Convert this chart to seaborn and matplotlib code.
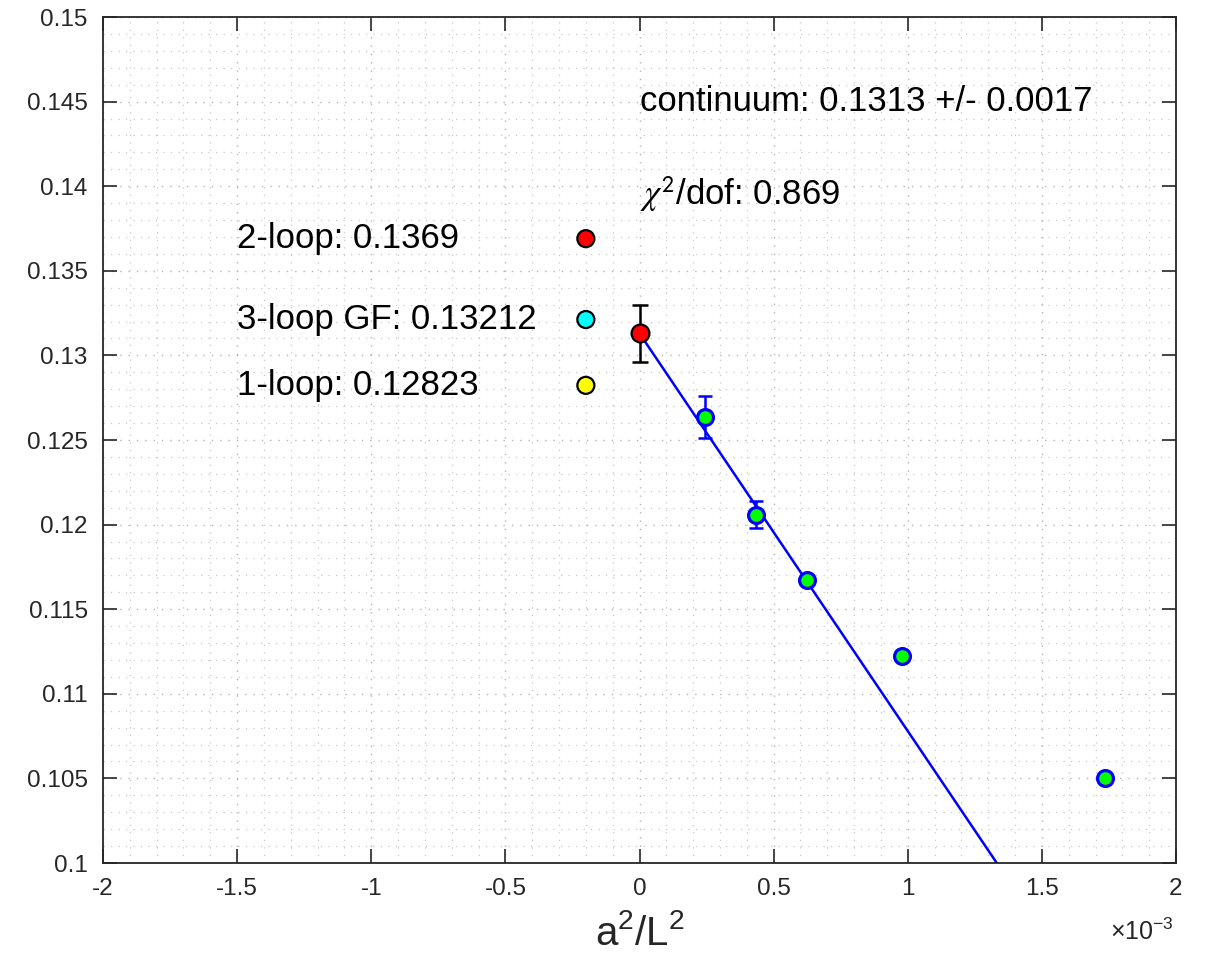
import numpy as np
import pandas as pd
import matplotlib
matplotlib.use("Agg")
import matplotlib.pyplot as plt
from matplotlib.ticker import MultipleLocator, FuncFormatter
import seaborn as sns

# lattice data: a^2/L^2 and coupling with errors
x_lat = [0.000244, 0.000434, 0.000625, 0.000977, 0.001736]
y_lat = [0.12636, 0.12057, 0.11673, 0.11223, 0.10502]
err_lat = [0.00122, 0.00080, 0.00025, 0.00012, 0.00012]

# continuum extrapolation
x_cont = [0.0]
y_cont = [0.1313]
err_cont = [0.0017]
fit_slope = -23.5
chi2_dof = 0.869

# perturbative reference values
pert_names = ["2-loop", "3-loop GF", "1-loop"]
pert_values = [0.1369, 0.13212, 0.12823]
pert_colors = ["#ff0000", "#00ffff", "#ffff00"]
pert_x = -0.0002

x_ticks = [-2, -1.5, -1, -0.5, 0, 0.5, 1, 1.5, 2]
y_ticks = [0.1, 0.105, 0.11, 0.115, 0.12, 0.125, 0.13, 0.135, 0.14, 0.145, 0.15]

sns.set_theme(style="ticks")
plt.rcParams["font.family"] = ["Liberation Sans", "DejaVu Sans"]
plt.rcParams["mathtext.fontset"] = "custom"
plt.rcParams["mathtext.rm"] = "Liberation Sans"
plt.rcParams["mathtext.it"] = "Liberation Sans:italic"
plt.rcParams["mathtext.sf"] = "Liberation Sans"

fig = plt.figure(figsize=(12.06, 9.55), dpi=100)
ax = fig.add_axes([103 / 1206, 1 - 863 / 955, (1176 - 103) / 1206, (863 - 17) / 955])

# grid
ax.set_axisbelow(True)
ax.xaxis.set_major_locator(MultipleLocator(0.0005))
ax.xaxis.set_minor_locator(MultipleLocator(0.0001))
ax.yaxis.set_major_locator(MultipleLocator(0.005))
ax.yaxis.set_minor_locator(MultipleLocator(0.001))
ax.grid(which="major", color="#b5b5b5", linestyle=(0, (1, 5)), linewidth=1.0)
ax.grid(which="minor", color="#c8c8c8", linestyle=(0, (1, 5)), linewidth=0.9)

# fit line from the continuum value
fit_x = np.array([0.0, 0.0016])
fit_df = pd.DataFrame({"x": fit_x, "y": y_cont[0] + fit_slope * fit_x})
sns.lineplot(data=fit_df, x="x", y="y", ax=ax, color="#0000ff", linewidth=1.8, zorder=2)

# lattice points
ax.errorbar(x_lat, y_lat, yerr=err_lat, fmt="none", ecolor="#0000ff",
            elinewidth=1.8, capsize=5, capthick=1.8, zorder=3)
lat_df = pd.DataFrame({"x": x_lat, "y": y_lat})
sns.scatterplot(data=lat_df, x="x", y="y", ax=ax, s=130, color="#00ff00",
                edgecolor="#0000ff", linewidth=2.3, zorder=4)

# continuum point
ax.errorbar(x_cont, y_cont, yerr=err_cont, fmt="none", ecolor="black",
            elinewidth=1.8, capsize=5.5, capthick=1.8, zorder=3)
cont_df = pd.DataFrame({"x": x_cont, "y": y_cont})
sns.scatterplot(data=cont_df, x="x", y="y", ax=ax, s=165, color="#ff0000",
                edgecolor="black", linewidth=1.6, zorder=5)

# perturbative values
pert_df = pd.DataFrame({"x": [pert_x] * len(pert_values), "y": pert_values,
                        "name": pert_names})
sns.scatterplot(data=pert_df, x="x", y="y", hue="name", palette=pert_colors,
                ax=ax, s=150, edgecolor="black", linewidth=1.6, legend=False, zorder=5)

for name, val in zip(pert_names, pert_values):
    ax.text(-0.0015, val, f"{name}: {val:g}", fontsize=25, ha="left",
            va="center", color="black")

ax.text(0.0, 0.145, f"continuum: {y_cont[0]:.4f} +/- {err_cont[0]:.4f}",
        fontsize=25, ha="left", va="center", color="black")
ax.text(0.0, 0.1389, r"$\chi^{\mathsf{2}}$/dof: " + f"{chi2_dof:.3f}",
        fontsize=25, ha="left", va="baseline", color="black",
        math_fontfamily="stix")

ax.set_xlim(-0.002, 0.002)
ax.set_ylim(0.1, 0.15)
ax.set_xticks([t * 1e-3 for t in x_ticks])
ax.xaxis.set_major_formatter(FuncFormatter(lambda v, p: f"{v * 1e3:g}"))
ax.set_yticks(y_ticks)
ax.yaxis.set_major_formatter(FuncFormatter(lambda v, p: f"{v:g}"))

ax.tick_params(which="major", direction="in", length=10, width=1.2,
               top=True, right=True, labelsize=17.5, colors="#262626", pad=11)
ax.tick_params(which="minor", length=0, top=True, right=True)
for sp in ax.spines.values():
    sp.set_visible(True)
    sp.set_color("#262626")
    sp.set_linewidth(1.3)

ax.set_xlabel(r"a$^{2}$/L$^{2}$", fontsize=29, color="#262626", labelpad=10)
ax.set_ylabel("")
fig.text(1142 / 1206, 1 - 932 / 955, r"$\times$10$^{-3}$", fontsize=18,
         ha="center", va="center", color="#262626")

fig.savefig("out.png", dpi=100)
